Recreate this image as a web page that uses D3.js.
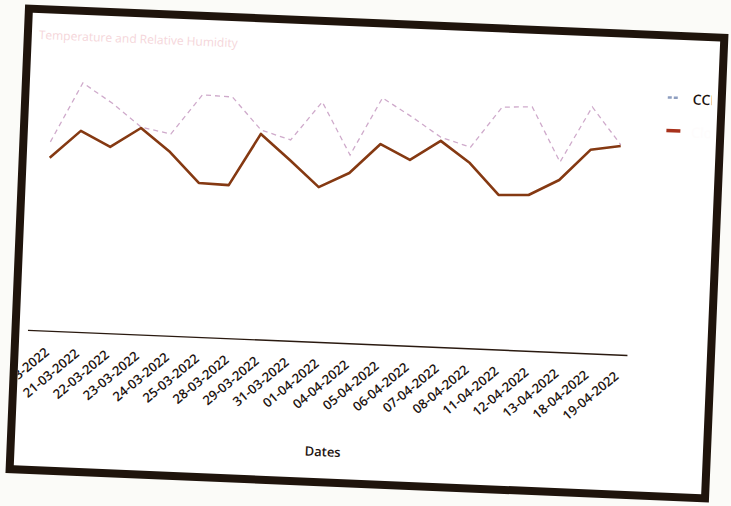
<!DOCTYPE html>
<html>
<head>
<meta charset="utf-8">
<script src="https://cdn.jsdelivr.net/npm/d3@7"></script>
<style>
  html, body { margin: 0; padding: 0; background: #fbfbf8; }
  svg { display: block; }
</style>
</head>
<body>
<svg id="chart" width="731" height="506"></svg>
<script>
// Trading dates shown on the x axis
const dates = [
  "18-03-2022", "21-03-2022", "22-03-2022", "23-03-2022", "24-03-2022",
  "25-03-2022", "28-03-2022", "29-03-2022", "31-03-2022", "01-04-2022",
  "04-04-2022", "05-04-2022", "06-04-2022", "07-04-2022", "08-04-2022",
  "11-04-2022", "12-04-2022", "13-04-2022", "18-04-2022", "19-04-2022"
];

// Dashed series
const seriesCC = [
  62.9, 83.0, 76.7, 69.1, 67.2, 80.7, 80.4, 69.8, 66.9, 80.0,
  62.7, 82.2, 76.3, 69.9, 67.0, 80.8, 81.3, 63.3, 82.1, 69.9
];

// Solid series
const seriesB = [
  57.6, 67.0, 62.1, 68.8, 61.2, 51.3, 51.0, 68.5, 60.2, 51.6,
  56.7, 66.8, 61.9, 68.7, 61.7, 51.5, 51.9, 57.3, 67.8, 69.5
];

const legendLabels = ["CCL", "Close"];
const chartTitle = "Temperature and Relative Humidity";
const xTitle = "Dates";

const svg = d3.select("#chart");

// whole sheet is tilted slightly
const sheet = svg.append("g").attr("transform", "rotate(2.4 368 253)");

const frame = { x: 15, y: 19, w: 704, h: 469, t: 8 };

sheet.append("defs").append("clipPath").attr("id", "inner")
  .append("rect")
  .attr("x", frame.x + frame.t).attr("y", frame.y + frame.t)
  .attr("width", frame.w - 2 * frame.t - 6).attr("height", frame.h - 2 * frame.t);

sheet.append("rect")
  .attr("x", frame.x + frame.t / 2).attr("y", frame.y + frame.t / 2)
  .attr("width", frame.w - frame.t).attr("height", frame.h - frame.t)
  .attr("fill", "#ffffff")
  .attr("stroke", "#1f140c")
  .attr("stroke-width", frame.t);

const g = sheet.append("g").attr("clip-path", "url(#inner)");

const x = d3.scalePoint().domain(dates).range([31, 631]).padding(0.5);
const y = d3.scaleLinear().domain([0, 100]).range([344, 44]);

// title
g.append("text")
  .attr("x", 30).attr("y", 53)
  .attr("font-family", "Open Sans, sans-serif")
  .attr("font-size", 12)
  .attr("fill", "#f5d6da")
  .text(chartTitle);

// x axis
const xAxis = g.append("g")
  .attr("transform", "translate(0,344)")
  .call(d3.axisBottom(x).tickSize(0).tickSizeOuter(0));
xAxis.select(".domain").attr("stroke", "#2a1a10").attr("stroke-width", 1.4);
xAxis.selectAll(".tick text")
  .attr("font-family", "Open Sans, sans-serif")
  .attr("font-size", 13)
  .attr("font-weight", 600)
  .attr("fill", "#1e1410")
  .attr("text-anchor", "end")
  .attr("dy", null)
  .attr("y", 0)
  .attr("transform", "translate(8,23) rotate(-42)");

g.append("text")
  .attr("x", 331).attr("y", 458)
  .attr("text-anchor", "middle")
  .attr("font-family", "Open Sans, sans-serif")
  .attr("font-size", 13)
  .attr("font-weight", 600)
  .attr("fill", "#1e1410")
  .text(xTitle);

// lines
const line = d3.line().x((d, i) => x(dates[i])).y(d => y(d));

g.append("path")
  .datum(seriesCC)
  .attr("fill", "none")
  .attr("stroke", "#cfaacb")
  .attr("stroke-width", 1.3)
  .attr("stroke-dasharray", "5,4")
  .attr("d", line);

g.append("path")
  .datum(seriesB)
  .attr("fill", "none")
  .attr("stroke", "#853912")
  .attr("stroke-width", 2.6)
  .attr("stroke-linejoin", "round")
  .attr("d", line);

// legend
const legend = g.append("g").attr("transform", "translate(661,0)");
legend.append("line")
  .attr("x1", 0).attr("x2", 12).attr("y1", 85).attr("y2", 85)
  .attr("stroke", "#8e9ec0").attr("stroke-width", 2.5)
  .attr("stroke-dasharray", "4,2");
legend.append("text")
  .attr("x", 25).attr("y", 91)
  .attr("font-family", "Open Sans, sans-serif")
  .attr("font-size", 14).attr("font-weight", 600)
  .attr("fill", "#1e1410")
  .text(legendLabels[0]);
legend.append("line")
  .attr("x1", 0).attr("x2", 14).attr("y1", 118).attr("y2", 118)
  .attr("stroke", "#a8321c").attr("stroke-width", 3.5);
legend.append("text")
  .attr("x", 25).attr("y", 124)
  .attr("font-family", "Open Sans, sans-serif")
  .attr("font-size", 14)
  .attr("fill", "#fefcfc")
  .text(legendLabels[1]);
</script>
</body>
</html>
